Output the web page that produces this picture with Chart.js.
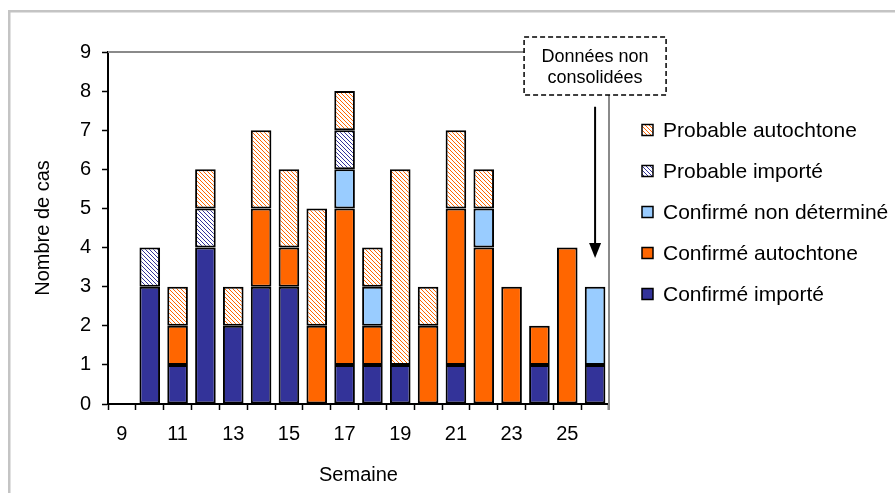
<!DOCTYPE html>
<html>
<head>
<meta charset="utf-8">
<script src="https://cdn.jsdelivr.net/npm/chart.js@4.4.0/dist/chart.umd.min.js"></script>
<style>
  html, body { margin: 0; padding: 0; background: #fff; }
  #wrap { width: 895px; height: 493px; }
</style>
</head>
<body>
<div id="wrap"><canvas id="cases" width="895" height="493"></canvas></div>
<script>
// Semaines et nombre de cas par catégorie
const weeks = ['9', '10', '11', '12', '13', '14', '15', '16', '17', '18', '19', '20', '21', '22', '23', '24', '25', '26'];
const confirmeImporte    = [0, 3, 1, 4, 2, 3, 3, 0, 1, 1, 1, 0, 1, 0, 0, 1, 0, 1];
const confirmeAutochtone = [0, 0, 1, 0, 0, 2, 1, 2, 4, 1, 0, 2, 4, 4, 3, 1, 4, 0];
const confirmeNonDet     = [0, 0, 0, 0, 0, 0, 0, 0, 1, 1, 0, 0, 0, 1, 0, 0, 0, 2];
const probableImporte    = [0, 1, 0, 1, 0, 0, 0, 0, 1, 0, 0, 0, 0, 0, 0, 0, 0, 0];
const probableAutochtone = [0, 0, 1, 1, 1, 2, 2, 3, 1, 1, 5, 1, 2, 1, 0, 0, 0, 0];
const yTicks = [0, 1, 2, 3, 4, 5, 6, 7, 8, 9];
const noteText = ['Données non', 'consolidées'];

const canvas = document.getElementById('cases');
const ctx = canvas.getContext('2d');

// hachures diagonales sur fond blanc
function hatch(color) {
    const c = document.createElement('canvas');
    c.width = 4; c.height = 4;
    const g = c.getContext('2d');
    g.fillStyle = '#fff';
    g.fillRect(0, 0, 4, 4);
    g.strokeStyle = color;
    g.lineWidth = 1;
    g.beginPath();
    g.moveTo(-1, -1); g.lineTo(5, 5);
    g.moveTo(-1, 3); g.lineTo(1, 5);
    g.moveTo(3, -1); g.lineTo(5, 1);
    g.stroke();
    return ctx.createPattern(c, 'repeat');
}

const FONT = 'Liberation Sans, Arial, sans-serif';
Chart.defaults.font.family = FONT;
Chart.defaults.color = '#000';

function bars(label, data, fill) {
    return {
        label: label,
        data: data,
        backgroundColor: fill,
        borderColor: '#000',
        borderWidth: c => (c.raw ? 2 : 0),
        borderSkipped: false,
        categoryPercentage: 1.0,
        barPercentage: 0.74
    };
}

// cadre, bordure de la zone de tracé, annotation et légende
const decor = {
    id: 'decor',
    beforeDraw(chart) {
        const g = chart.ctx;
        g.save();
        g.strokeStyle = '#c4c4c4';
        g.lineWidth = 2.5;
        g.strokeRect(9.25, 11.25, 2000, 2000);
        g.restore();
    },
    beforeDatasetsDraw(chart) {
        const a = chart.chartArea, g = chart.ctx;
        g.save();
        g.strokeStyle = '#8a8a8a';
        g.lineWidth = 2;
        g.beginPath();
        g.moveTo(a.left, a.top);
        g.lineTo(a.right, a.top);
        g.lineTo(a.right, a.bottom + 6);
        g.stroke();
        g.restore();
    },
    afterDraw(chart) {
        const g = chart.ctx;
        const xs = chart.scales.x, ys = chart.scales.y;
        const cx = xs.getPixelForValue(weeks.length - 1);
        g.save();
        // encadré pointillé
        g.fillStyle = '#fff';
        g.fillRect(cx - 71, 37, 142, 58);
        g.strokeStyle = '#000';
        g.lineWidth = 1.5;
        g.setLineDash([5, 3]);
        g.strokeRect(cx - 71, 37, 142, 58);
        g.setLineDash([]);
        g.font = '18px ' + FONT;
        g.fillStyle = '#000';
        g.textAlign = 'center';
        g.textBaseline = 'middle';
        g.fillText(noteText[0], cx, 57);
        g.fillText(noteText[1], cx, 78);
        // flèche
        const yTop = ys.getPixelForValue(7.6), yTip = ys.getPixelForValue(3.73);
        g.lineWidth = 2;
        g.beginPath();
        g.moveTo(cx, yTop);
        g.lineTo(cx, yTip - 12);
        g.stroke();
        g.beginPath();
        g.moveTo(cx, yTip);
        g.lineTo(cx - 6, yTip - 15);
        g.lineTo(cx + 6, yTip - 15);
        g.closePath();
        g.fill();
        // légende (ordre inverse de l'empilement)
        const items = chart.data.datasets.slice().reverse();
        const lx = chart.chartArea.right + 33;
        g.font = '21px ' + FONT;
        g.textAlign = 'left';
        items.forEach((ds, i) => {
            const y = 130 + i * 41;
            g.fillStyle = ds.backgroundColor;
            g.fillRect(lx, y - 5.5, 11, 11);
            g.strokeStyle = '#000';
            g.lineWidth = 1.5;
            g.strokeRect(lx, y - 5.5, 11, 11);
            g.fillStyle = '#000';
            g.fillText(ds.label, lx + 21, y + 1);
        });
        g.restore();
    }
};

new Chart(canvas, {
    type: 'bar',
    data: {
        labels: weeks,
        datasets: [
            bars('Confirmé importé', confirmeImporte, '#333399'),
            bars('Confirmé autochtone', confirmeAutochtone, '#ff6600'),
            bars('Confirmé non déterminé', confirmeNonDet, '#99ccff'),
            bars('Probable importé', probableImporte, hatch('#333399')),
            bars('Probable autochtone', probableAutochtone, hatch('#ff6600'))
        ]
    },
    options: {
        responsive: false,
        animation: false,
        devicePixelRatio: 1,
        layout: { padding: { top: 52, left: 27, right: 286, bottom: 2 } },
        plugins: {
            legend: { display: false },
            tooltip: { enabled: false }
        },
        scales: {
            x: {
                stacked: true,
                afterFit: s => { s.height = 87; },
                grid: {
                    offset: true,
                    drawOnChartArea: false,
                    drawTicks: true,
                    tickLength: 6,
                    tickColor: '#000',
                    tickWidth: 1.5
                },
                border: { color: '#000', width: 2 },
                ticks: {
                    autoSkip: false,
                    maxRotation: 0,
                    padding: 12,
                    font: { size: 20 },
                    callback: (v, i) => (Number(weeks[i]) % 2 === 1 ? weeks[i] : '')
                },
                title: { display: true, text: 'Semaine', font: { size: 20 } }
            },
            y: {
                stacked: true,
                min: yTicks[0],
                max: yTicks[yTicks.length - 1],
                afterFit: s => { s.width = 81; },
                grid: {
                    drawOnChartArea: false,
                    drawTicks: true,
                    tickLength: 6,
                    tickColor: '#000',
                    tickWidth: 1.5
                },
                border: { color: '#000', width: 2 },
                ticks: {
                    stepSize: 1,
                    padding: 11,
                    font: { size: 20 }
                },
                title: { display: true, text: 'Nombre de cas', font: { size: 20 } }
            }
        }
    },
    plugins: [decor]
});
</script>
</body>
</html>
